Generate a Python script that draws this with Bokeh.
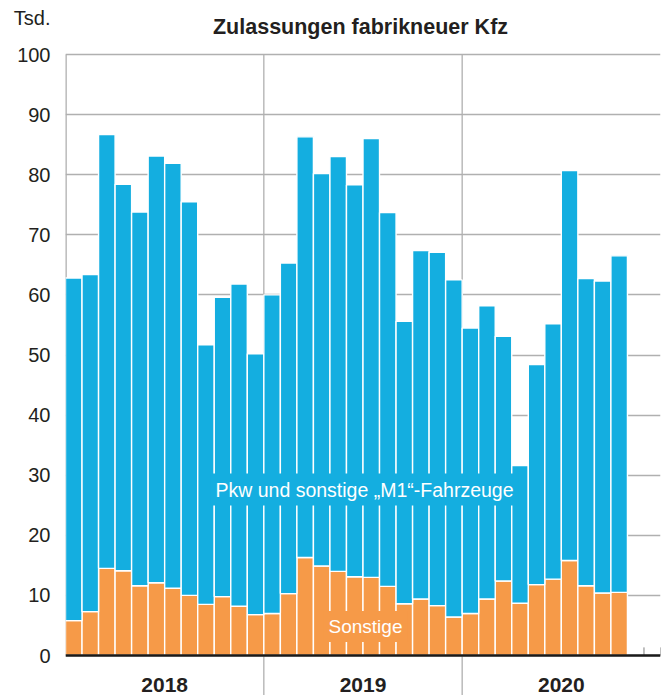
import numpy as np
from bokeh.plotting import figure
from bokeh.models import ColumnDataSource, Label, Span, FixedTicker, Range1d
from bokeh.embed import file_html
from bokeh.resources import INLINE

# ---- data (Tsd.) ----
jahre = ["2018", "2019", "2020"]
monate = [f"{j}-{m:02d}" for j in jahre for m in range(1, 13)][:34]
sonstige = [5.8, 7.3, 14.5, 14.1, 11.6, 12.1, 11.2, 10.0, 8.5, 9.8, 8.2, 6.8,
            7.0, 10.3, 16.3, 14.9, 14.0, 13.1, 13.0, 11.5, 8.6, 9.4, 8.3, 6.4,
            7.0, 9.4, 12.4, 8.7, 11.8, 12.7, 15.8, 11.6, 10.4, 10.5]
pkw = [57.0, 56.1, 72.2, 64.3, 62.2, 71.0, 70.7, 65.5, 43.2, 49.8, 53.6, 43.4,
       53.0, 55.0, 70.0, 65.3, 69.0, 65.2, 73.0, 62.2, 47.0, 58.0, 58.8, 56.1,
       47.5, 48.8, 40.7, 22.9, 36.6, 42.5, 64.9, 51.1, 51.9, 56.0]
y_ticks = list(range(0, 101, 10))
unit_label = "Tsd."

BLUE = "#14aee0"
ORANGE = "#f69a48"
GRID = "#b0b0b0"
TEXT = "#231f20"
FONT = "Liberation Sans"

W, H = 668, 695
LEFT, RIGHT = 65, 8
PLOT_TOP_PX, BASE_PX = 54, 655
ppu = (BASE_PX - PLOT_TOP_PX) / 100.0          # pixels per unit
y_lo = -(H - BASE_PX) / ppu
y_hi = BASE_PX / ppu

n_total = 12 * len(jahre)
xpos = np.arange(len(monate)) + 0.5
src = ColumnDataSource(dict(x=xpos, monat=monate, sonstige=sonstige, pkw=pkw))

p = figure(width=W, height=H, output_backend="svg", toolbar_location=None,
           x_range=Range1d(0, n_total), y_range=Range1d(y_lo, y_hi),
           min_border_left=LEFT, min_border_right=RIGHT, min_border_top=0,
           min_border_bottom=0)
p.outline_line_color = None
p.background_fill_color = "white"
p.border_fill_color = "white"

p.xaxis.visible = False
p.xgrid.visible = False
p.ygrid.ticker = FixedTicker(ticks=y_ticks)
p.ygrid.grid_line_color = GRID
p.ygrid.grid_line_width = 1.3

# y axis (unit label "Tsd." shown as top label of the axis)
tsd_pos = 106.1
yax = p.yaxis[0]
yax.ticker = FixedTicker(ticks=y_ticks + [tsd_pos])
yax.major_label_overrides = {tsd_pos: unit_label}
yax.axis_line_color = None
yax.major_tick_line_color = None
yax.minor_tick_line_color = None
yax.major_tick_in = 0
yax.major_tick_out = 0
yax.major_label_standoff = 15
yax.major_label_text_font = FONT
yax.major_label_text_font_size = "20px"
yax.major_label_text_color = TEXT

# left border line and year separators (behind bars)
p.segment(x0=[0], y0=[0], x1=[0], y1=[100], line_color=GRID, line_width=2.6)
yb = [12 * i for i in range(1, len(jahre))]
p.segment(x0=yb, y0=[y_lo] * len(yb), x1=yb, y1=[100] * len(yb),
          line_color=GRID, line_width=1.3)

# month ticks (hidden behind bars except after the last bar)
mb = np.arange(1, n_total + 1)
p.segment(x0=mb, y0=np.zeros(len(mb)), x1=mb, y1=np.full(len(mb), 1.35),
          line_color="#808080", line_width=1)

# stacked bars
p.vbar_stack(["sonstige", "pkw"], x="x", width=1, source=src,
             fill_color=[ORANGE, BLUE], line_color="white", line_width=1.4)

# baseline
p.add_layout(Span(location=0, dimension="width", line_color="#1a1a1a",
                  line_width=2.5))

# texts
p.add_layout(Label(x=17.85, y=104.54, text="Zulassungen fabrikneuer Kfz",
                   text_font=FONT, text_font_size="21.5px", text_font_style="bold",
                   text_color=TEXT, text_align="center",
                   text_baseline="alphabetic"))
for i, j in enumerate(jahre):
    p.add_layout(Label(x=12 * i + 6, y=-4.95, text=j, text_font=FONT,
                       text_font_size="21px", text_font_style="bold",
                       text_color=TEXT, text_align="center",
                       text_baseline="alphabetic"))

p.add_layout(Label(x=18.09, y=27.6, text="Pkw und sonstige „M1“-Fahrzeuge",
                   text_font=FONT, text_font_size="19.5px", text_color="white",
                   text_align="center", text_baseline="middle",
                   background_fill_color=BLUE, padding=5))
p.add_layout(Label(x=18.15, y=4.83, text="Sonstige",
                   text_font=FONT, text_font_size="19px", text_color="white",
                   text_align="center", text_baseline="middle",
                   background_fill_color=ORANGE, padding=5))

open("out.html", "w").write(file_html(p, INLINE))
